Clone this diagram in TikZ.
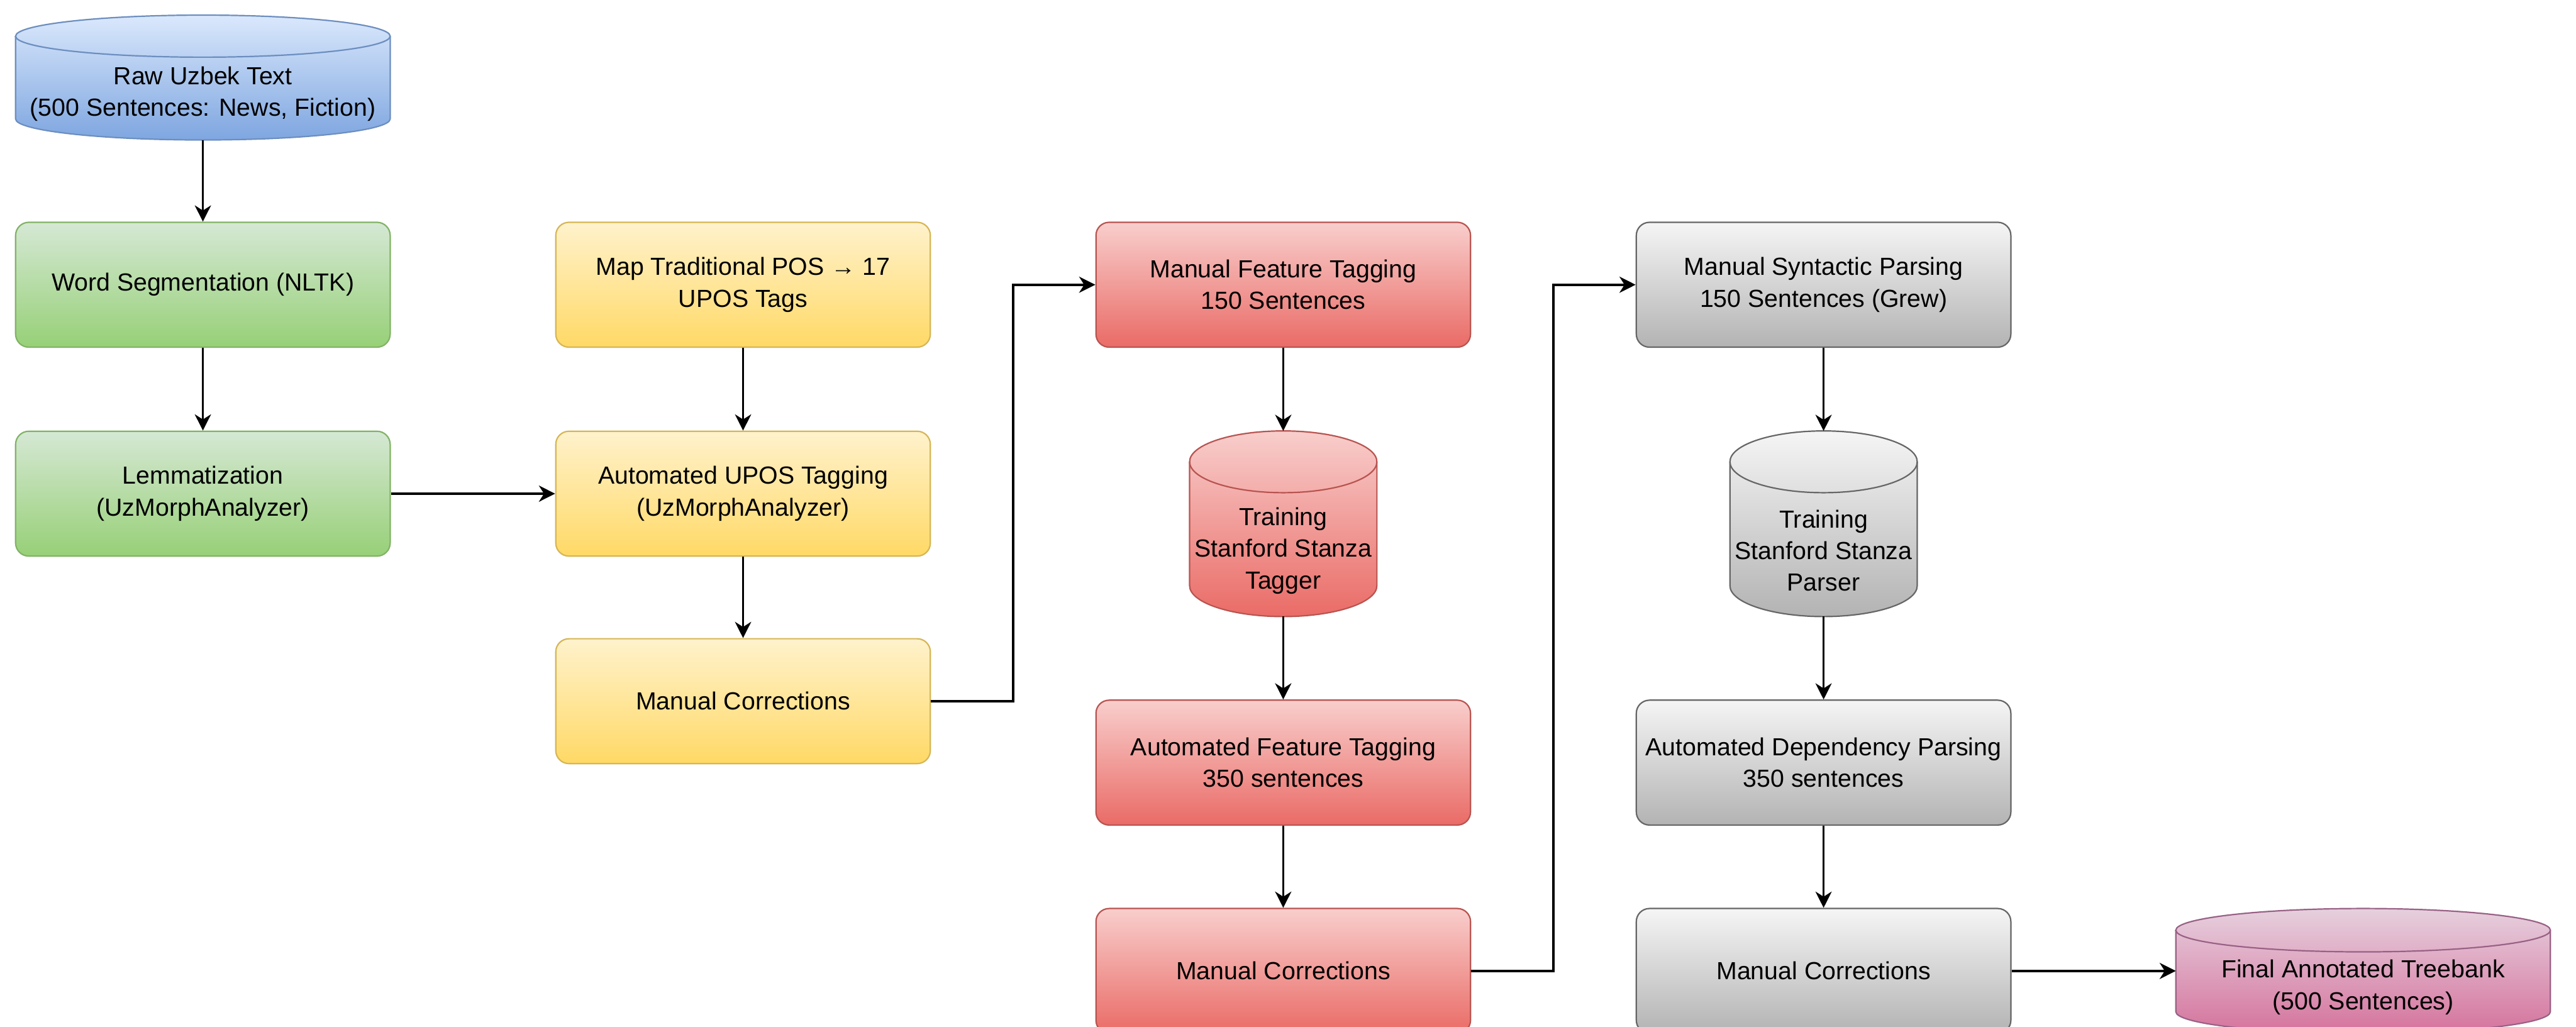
\documentclass[tikz,border=0pt]{standalone}
\usepackage{fontspec}
\setmainfont{Liberation Sans}
\usetikzlibrary{arrows.meta}

\definecolor{bluetop}{HTML}{DAE8FC}
\definecolor{bluebot}{HTML}{7EA6E0}
\definecolor{blueline}{HTML}{6C8EBF}
\definecolor{greentop}{HTML}{D5E8D4}
\definecolor{greenbot}{HTML}{97D077}
\definecolor{greenline}{HTML}{82B366}
\definecolor{yellowtop}{HTML}{FFF2CC}
\definecolor{yellowbot}{HTML}{FFD966}
\definecolor{yellowline}{HTML}{D6B656}
\definecolor{redtop}{HTML}{F8CECC}
\definecolor{redbot}{HTML}{EA6B66}
\definecolor{redline}{HTML}{B85450}
\definecolor{greytop}{HTML}{F5F5F5}
\definecolor{greybot}{HTML}{B3B3B3}
\definecolor{greyline}{HTML}{666666}
\definecolor{pinktop}{HTML}{E6D0DE}
\definecolor{pinkbot}{HTML}{D5739D}
\definecolor{pinkline}{HTML}{996185}

% cylinder round a node: node, x radius, y radius, colour
\newcommand{\drawdb}[4]{%
  \draw[line width=0.6pt, draw=#4line, top color=#4top, bottom color=#4bot]
    ([yshift=-#3]#1.north west) -- ([yshift=#3]#1.south west)
    arc[start angle=180, end angle=360, x radius=#2, y radius=#3]
    -- ([yshift=-#3]#1.north east)
    arc[start angle=0, end angle=180, x radius=#2, y radius=#3] -- cycle;
  \draw[line width=0.6pt, draw=#4line] ([yshift=-#3]#1.north west)
    arc[start angle=180, end angle=360, x radius=#2, y radius=#3];
}

\tikzset{
  box/.style={rectangle, rounded corners=0.2cm, minimum width=5.7cm, minimum height=1.9cm,
    align=center, line width=0.6pt, font=\fontsize{10.7}{13.7}\selectfont},
  greenbox/.style={box, draw=greenline, top color=greentop, bottom color=greenbot},
  yellowbox/.style={box, draw=yellowline, top color=yellowtop, bottom color=yellowbot},
  redbox/.style={box, draw=redline, top color=redtop, bottom color=redbot},
  greybox/.style={box, draw=greyline, top color=greytop, bottom color=greybot},
  widedb/.style={rectangle, inner sep=0pt, outer sep=0pt, minimum width=5.7cm, minimum height=1.9cm},
  talldb/.style={rectangle, inner sep=0pt, outer sep=0pt, minimum width=2.85cm, minimum height=2.825cm},
  dbtext/.style={align=center, inner sep=0pt, font=\fontsize{10.7}{13.7}\selectfont},
  flow/.style={-{Stealth[length=7pt,width=7pt,inset=2.2pt]}, line width=1pt},
}

\begin{document}
\begin{tikzpicture}
  \useasboundingbox (0,0) rectangle (39.2,-15.625);
  % column 1
  \node[widedb] (raw) at (3.0875,-1.18) {};
  \drawdb{raw}{2.85cm}{0.32cm}{blue}
  \node[dbtext] (rawtext) at ([yshift=-0.25cm]raw.center) {Raw Uzbek Text\\(500 Sentences: News, Fiction)};
  \node[greenbox] (wordseg) at (3.0875,-4.333) {Word Segmentation (NLTK)};
  \node[greenbox] (lemma) at (3.0875,-7.5125) {Lemmatization\\(UzMorphAnalyzer)};
  % column 2
  \node[yellowbox] (mappos) at (11.3075,-4.333) {Map Traditional POS → 17\\UPOS Tags};
  \node[yellowbox] (autoupos) at (11.3075,-7.5125) {Automated UPOS Tagging\\(UzMorphAnalyzer)};
  \node[yellowbox] (corr1) at (11.3075,-10.67) {Manual Corrections};
  % column 3
  \node[redbox] (feat1) at (19.5275,-4.333) {Manual Feature Tagging\\150 Sentences};
  \node[talldb] (tagger) at (19.5275,-7.97) {};
  \drawdb{tagger}{1.425cm}{0.47cm}{red}
  \node[dbtext] (taggertext) at ([yshift=-0.41cm]tagger.center) {Training\\Stanford Stanza\\Tagger};
  \node[redbox] (feat2) at (19.5275,-11.605) {Automated Feature Tagging\\350 sentences};
  \node[redbox] (corr2) at (19.5275,-14.775) {Manual Corrections};
  % column 4
  \node[greybox] (parse1) at (27.75,-4.333) {Manual Syntactic Parsing\\150 Sentences (Grew)};
  \node[talldb] (parser) at (27.75,-7.97) {};
  \drawdb{parser}{1.425cm}{0.47cm}{grey}
  \node[dbtext] (parsertext) at ([yshift=-0.41cm]parser.center) {Training\\Stanford Stanza\\Parser};
  \node[greybox] (parse2) at (27.75,-11.605) {Automated Dependency Parsing\\350 sentences};
  \node[greybox] (corr3) at (27.75,-14.775) {Manual Corrections};
  % result
  \node[widedb] (treebank) at (35.96,-14.775) {};
  \drawdb{treebank}{2.85cm}{0.33cm}{pink}
  \node[dbtext] (treebanktext) at ([yshift=-0.25cm]treebank.center) {Final Annotated Treebank\\(500 Sentences)};
  % arrows
  \draw[flow] (raw) -- (wordseg);
  \draw[flow] (wordseg) -- (lemma);
  \draw[flow] (lemma) -- (autoupos);
  \draw[flow] (mappos) -- (autoupos);
  \draw[flow] (autoupos) -- (corr1);
  \draw[flow] (corr1.east) -- ++(1.25,0) |- (feat1.west);
  \draw[flow] (feat1) -- (tagger);
  \draw[flow] (tagger) -- (feat2);
  \draw[flow] (feat2) -- (corr2);
  \draw[flow] (corr2.east) -- ++(1.25,0) |- (parse1.west);
  \draw[flow] (parse1) -- (parser);
  \draw[flow] (parser) -- (parse2);
  \draw[flow] (parse2) -- (corr3);
  \draw[flow] (corr3) -- (treebank);
\end{tikzpicture}
\end{document}
